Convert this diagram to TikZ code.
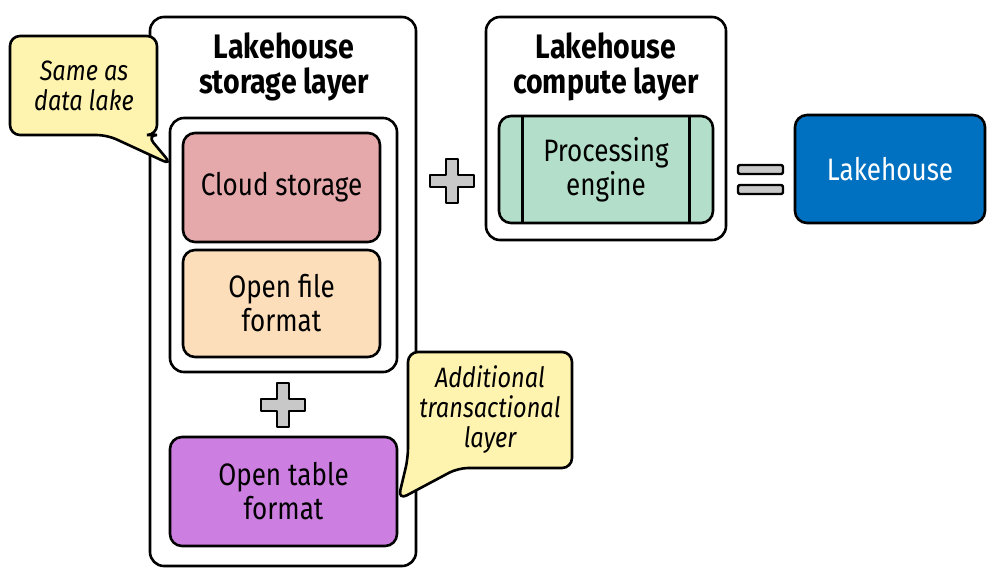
\documentclass[tikz,border=0pt]{standalone}
\usepackage{fontspec}
\setmainfont{Fira Sans}[FakeStretch=0.84]
\usepackage{xcolor}
\usepackage{tikz}
\usetikzlibrary{positioning,calc}
\definecolor{cCloud}{HTML}{E5A9AB}
\definecolor{cFile}{HTML}{FDDEBB}
\definecolor{cTable}{HTML}{CC7FE0}
\definecolor{cEngine}{HTML}{B3DFCA}
\definecolor{cLake}{HTML}{0070C0}
\definecolor{cNote}{HTML}{FFF3B0}
\definecolor{cSign}{HTML}{C8C8C8}
\tikzset{
  base/.style={rounded corners=12pt,draw,align=center,line width=2.6pt,inner sep=0pt,
    font=\fontsize{31}{34}\selectfont},
  layer/.style={base,rounded corners=14pt,fill=white},
  cnode/.style={base,fill=cCloud}, fnode/.style={base,fill=cFile},
  tnode/.style={base,fill=cTable}, enode/.style={base,fill=cEngine},
  lnode/.style={base,fill=cLake,text=white},
  title/.style={font=\fontsize{34}{35}\selectfont\bfseries,align=center},
  note/.style={draw,fill=cNote,line width=2.6pt,rounded corners=10pt},
  notetext/.style={font=\fontsize{28}{30}\selectfont\itshape,align=center},
  sign/.style={draw,fill=cSign,line width=2.4pt,line join=round}}

\begin{document}
\begin{tikzpicture}[x=1pt,y=-1pt]
\useasboundingbox (0,0) rectangle (1003,574);
% storage layer
\node[layer,minimum width=266pt,minimum height=549pt] (storage) at (283,291.5) {};
\node[title] (stitle) at (284,67) {Lakehouse\\storage layer};
\node[layer,minimum width=227pt,minimum height=254pt] (lake) at (283.5,245) {};
\node[cnode,minimum width=197pt,minimum height=109pt] (cloud) at (281.5,187.5) {Cloud storage};
\node[fnode,minimum width=197pt,minimum height=107pt] (file) at (281.5,303.5) {Open file\\format};
\node[tnode,minimum width=227pt,minimum height=109pt] (table) at (283.5,491.5) {Open table\\format};
% compute layer
\node[layer,minimum width=240pt,minimum height=223pt] (compute) at (606,128.5) {};
\node[title] (ctitle) at (606,67) {Lakehouse\\compute layer};
\node[enode,minimum width=214pt,minimum height=107pt] (engine) at (606,169.5) {Processing\\engine};
\draw[line width=2.6pt] ([xshift=25pt]engine.north west) -- ([xshift=25pt]engine.south west);
\draw[line width=2.6pt] ([xshift=-25pt]engine.north east) -- ([xshift=-25pt]engine.south east);
% result
\node[lnode,minimum width=190pt,minimum height=108pt] (house) at (890,169) {Lakehouse};
% plus and equals signs
\foreach \c in {(452,181),(283,405)}
  \draw[sign,shift={\c}] (-6,-22) -- (6,-22) -- (6,-6) -- (22,-6) -- (22,6) -- (6,6)
    -- (6,22) -- (-6,22) -- (-6,6) -- (-22,6) -- (-22,-6) -- (-6,-6) -- cycle;
\draw[sign,rounded corners=2pt] (738,165) rectangle (783,174);
\draw[sign,rounded corners=2pt] (738,185) rectangle (783,194);
% callouts
\draw[note] (10,36) -- (157,36) -- (157,135) -- (147,135) -- (172,165) -- (107,135) -- (10,135) -- cycle;
\node[notetext] (sameas) at (84,86) {Same as\\data lake};
\draw[note] (408,352) -- (572,352) -- (572,468) -- (458,468) -- (398,500) -- (408,458) -- cycle;
\node[notetext] (extra) at (490,410) {Additional\\transactional\\layer};
\end{tikzpicture}
\end{document}
